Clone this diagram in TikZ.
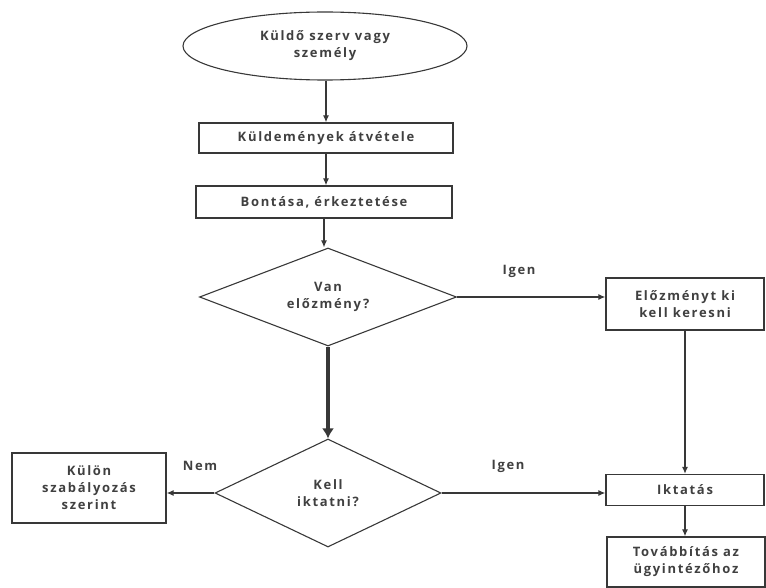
\documentclass[tikz,border=0pt]{standalone}
\usepackage{fontspec}
\setmainfont[LetterSpace=13]{Open Sans}
\usetikzlibrary{shapes.geometric,arrows.meta}
\definecolor{ln}{rgb}{0.22,0.22,0.22}
\definecolor{tx}{rgb}{0.25,0.25,0.25}
\begin{document}
\begin{tikzpicture}[x=1pt,y=-1pt,
  every node/.style={font=\fontsize{13}{17}\selectfont\bfseries, text=tx, inner sep=0pt, align=center},
  boxn/.style={draw=ln, line width=1.3pt, rectangle},
  dia/.style={draw=ln, line width=1.1pt, diamond},
  conn/.style={draw=ln, line width=1.2pt, -{Latex[length=7pt,width=6pt]}},
  thickconn/.style={draw=ln, line width=3.5pt, -{Latex[length=10pt,width=12pt]}},
  lab/.style={font=\fontsize{13}{17}\selectfont\bfseries}]
\useasboundingbox (0,0) rectangle (766,588);
\node[draw=ln, line width=1.1pt, ellipse, minimum width=284, minimum height=68] (ell) at (325,46) {Küldő szerv vagy\\személy};
\node[boxn, minimum width=254, minimum height=30] (b1) at (326,138) {Küldemények átvétele};
\node[boxn, minimum width=256, minimum height=32] (b2) at (324,202) {Bontása, érkeztetése};
\node[dia, aspect=2.62, minimum width=257, minimum height=98] (d1) at (328,297) {Van\\előzmény?};
\node[boxn, minimum width=158, minimum height=52] (e) at (685,304) {Előzményt ki\\kell keresni};
\node[dia, aspect=2.09, minimum width=226, minimum height=108] (d2) at (328,493) {Kell\\iktatni?};
\node[boxn, minimum width=154, minimum height=70] (k) at (89,488) {Külön\\szabályozás\\szerint};
\node[boxn, minimum width=158, minimum height=31] (ik) at (685,490) {Iktatás};
\node[boxn, minimum width=158, minimum height=50] (t) at (686,562) {Továbbítás az\\ügyintézőhoz};
\node[lab] (l1) at (519,271) {Igen};
\node[lab] (l2) at (200,466) {Nem};
\node[lab] (l3) at (508,466) {Igen};
\draw[conn] (ell.south -| b1.north) -- (b1.north);
\draw[conn] (b1.south) -- (b1.south |- b2.north);
\draw[conn] (b2.south) -- (b2.south |- d1.north);
\draw[conn] (d1.east) -- (d1.east -| e.west);
\draw[thickconn] (d1.south) -- (d1.south |- d2.north);
\draw[conn] (d2.west) -- (d2.west -| k.east);
\draw[conn] (d2.east) -- (d2.east -| ik.west);
\draw[conn] (e.south) -- (ik.north);
\draw[conn] (ik.south) -- (ik.south |- t.north);
\end{tikzpicture}
\end{document}
